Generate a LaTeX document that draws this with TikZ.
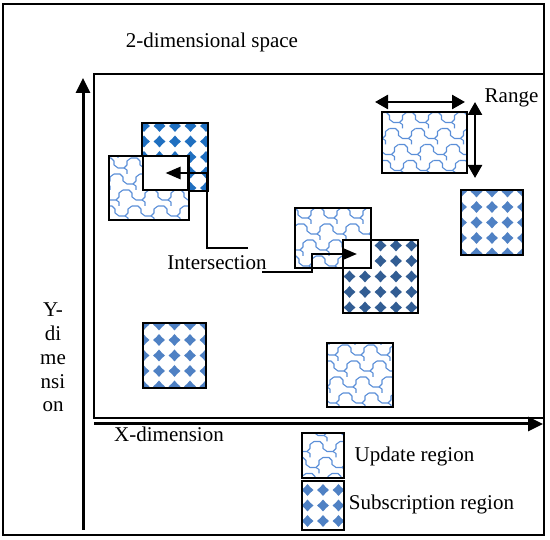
\documentclass[tikz,border=0pt]{standalone}
\usepackage{fontspec}
\setmainfont{Liberation Serif}
\usetikzlibrary{arrows.meta}
\definecolor{updblue}{HTML}{5B8FD8}
\definecolor{subA}{HTML}{1F6FC0}
\definecolor{subB}{HTML}{325D93}
\definecolor{subC}{HTML}{4F81C4}
\newcommand{\updpattern}{%
  \foreach \j in {-3,...,3}{
    \foreach \k in {-3,...,3}{
      \pgfmathsetmacro{\xo}{\k*26+\j*9}
      \draw[updblue, line width=1.1pt, line join=round]
        (\xo, {\j*16+2}) -- ++(6,0) -- ++(3,3) -- ++(0,4) -- ++(4,3) -- ++(6,0) -- ++(3,-3) -- ++(0,-4) -- ++(4,-3);
      \draw[updblue, line width=1.1pt, line join=round] ({\xo+19}, {\j*16+12}) -- ++(3,2) -- ++(0,4);
    }
  }}
\newcommand{\subpattern}[1]{%
  \foreach \i in {-3,...,3}{
    \foreach \j in {-3,...,3}{
      \fill[#1] ({\i*15.5},{\j*15.5}) +(0,-6) -- +(2.8,-2.8) -- +(6,0) -- +(2.8,2.8)
        -- +(0,6) -- +(-2.8,2.8) -- +(-6,0) -- +(-2.8,-2.8) -- cycle;
    }
  }}
\tikzset{
  region/.style={draw, line width=2pt, inner sep=0pt, outer sep=0pt, fill=white},
  upd/.style={region, path picture={\updpattern}},
  sub/.style={region, path picture={\subpattern{#1}}},
  blank/.style={region},
  lbl/.style={font=\fontsize{21}{24}\selectfont, anchor=base, inner sep=0pt},
  conn/.style={line width=2.6pt, -{Triangle[length=15pt,width=12pt]}},
  axis/.style={line width=3pt, -{Triangle[length=15pt,width=14pt]}},
  rng/.style={line width=2.6pt, {Triangle[length=13pt,width=14pt]}-{Triangle[length=13pt,width=14pt]}}
}
\begin{document}
\begin{tikzpicture}[x=1pt,y=-1pt]
\useasboundingbox (0,0) rectangle (550,540);
\fill[white] (0,0) rectangle (550,540);
% frames
\draw[line width=2pt] (3,4) rectangle (544,535);
\draw[line width=2pt] (94,74) rectangle (544,418);
% axes
\coordinate (yb) at (83,530);
\coordinate (yt) at (83,78);
\coordinate (xl) at (94,424);
\coordinate (xr) at (543,424);
\draw[axis] (yb) -- (yt);
\draw[axis] (xl) -- (xr);
% regions
\node[sub=subA, minimum width=66pt, minimum height=68pt] (S1) at (175,157) {};
\node[upd, minimum width=80pt, minimum height=64pt] (U1) at (149,188) {};
\node[blank, minimum width=45pt, minimum height=34pt] (I1) at (165.5,173) {};
\node[upd, minimum width=76pt, minimum height=60pt] (U2) at (333,238) {};
\node[sub=subB, minimum width=75pt, minimum height=73pt] (S2) at (380.5,276.5) {};
\node[blank, minimum width=28pt, minimum height=28pt] (I2) at (357,254) {};
\node[upd, minimum width=85pt, minimum height=61pt] (U3) at (424.5,142.5) {};
\node[sub=subC, minimum width=62pt, minimum height=65pt] (S3) at (492,222.5) {};
\node[sub=subC, minimum width=63pt, minimum height=65pt] (S4) at (174.5,355.5) {};
\node[upd, minimum width=66pt, minimum height=64pt] (U4) at (360,375) {};
\node[upd, minimum width=42pt, minimum height=45pt] (LU) at (323,455.5) {};
\node[sub=subC, minimum width=42pt, minimum height=49pt] (LS) at (323,505.5) {};
% range arrows
\coordinate (rh1) at (375,102);
\coordinate (rh2) at (465,102);
\coordinate (rv1) at (475,102);
\coordinate (rv2) at (475,178);
\draw[rng] (rh1) -- (rh2);
\draw[rng] (rv1) -- (rv2);
% intersection connectors
\coordinate (p1) at (248,248);
\coordinate (k1) at (207,173);
\draw[conn] (p1) -| (k1) -- (I1.center);
\coordinate (p2) at (262,272);
\coordinate (k2) at (312,254);
\draw[conn] (p2) -| (k2) -- (I2.center);
% labels
\node[lbl] (t2d) at (212,48) {2-dimensional space};
\node[lbl] (trange) at (511.5,103) {Range};
\node[lbl] (tint) at (217,270) {Intersection};
\node[lbl] (txd) at (169,442) {X-dimension};
\node[lbl] (tupd) at (414.5,462) {Update region};
\node[lbl] (tsub) at (431.5,510) {Subscription region};
\node[lbl] (ty1) at (53,317) {Y-};
\node[lbl] (ty2) at (53,341) {di};
\node[lbl] (ty3) at (53,365) {me};
\node[lbl] (ty4) at (53,389) {nsi};
\node[lbl] (ty5) at (53,412) {on};
\end{tikzpicture}
\end{document}
